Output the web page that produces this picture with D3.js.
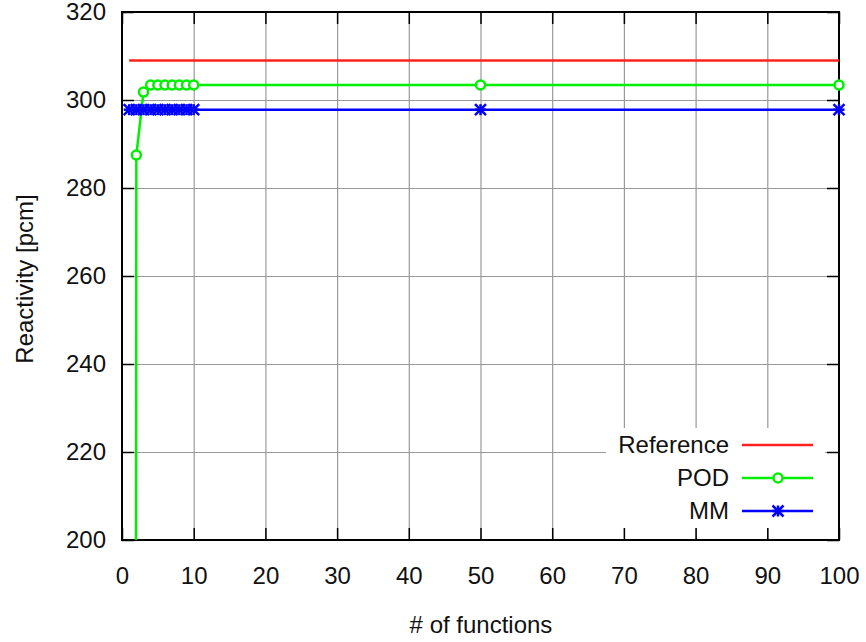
<!DOCTYPE html>
<html>
<head>
<meta charset="utf-8">
<script src="https://cdn.jsdelivr.net/npm/d3@7"></script>
<style>
  body { margin: 0; background: #fff; }
  svg { display: block; font-family: "Liberation Sans", Arial, sans-serif; }
  .grid line { stroke: #999; stroke-width: 1.2; }
  .grid path { display: none; }
  .ticks line { stroke: #000; stroke-width: 1.5; }
  .ticks path { display: none; }
  .ticks text { font-size: 24px; fill: #111; }
</style>
</head>
<body>
<svg id="chart" width="866" height="642"></svg>
<script>
// values
const refX = [1, 100];
const refY = [309, 309];
const podX = [1, 2, 3, 4, 5, 6, 7, 8, 9, 10, 50, 100];
const podY = [-2000, 287.5, 301.8, 303.4, 303.4, 303.4, 303.4, 303.4, 303.4, 303.4, 303.4, 303.4];
const mmX = [1, 2, 3, 4, 5, 6, 7, 8, 9, 10, 50, 100];
const mmY = [297.8, 297.8, 297.8, 297.8, 297.8, 297.8, 297.8, 297.8, 297.8, 297.8, 297.8, 297.8];
const xTicks = [0, 10, 20, 30, 40, 50, 60, 70, 80, 90, 100];
const yTicks = [200, 220, 240, 260, 280, 300, 320];
const legendNames = ['Reference', 'POD', 'MM'];
const colors = ['#ff2020', '#00f000', '#0000ff'];

const margin = { top: 12, right: 27, bottom: 102, left: 122 };
const width = 866, height = 642;
const iw = width - margin.left - margin.right;
const ih = height - margin.top - margin.bottom;

const svg = d3.select('#chart');
const g = svg.append('g').attr('transform', `translate(${margin.left},${margin.top})`);

const x = d3.scaleLinear().domain([0, 100]).range([0, iw]);
const y = d3.scaleLinear().domain([200, 320]).range([ih, 0]);

svg.append('defs').append('clipPath').attr('id', 'clip')
  .append('rect').attr('width', iw).attr('height', ih);

// grid
g.append('g').attr('class', 'grid')
  .attr('transform', `translate(0,${ih})`)
  .call(d3.axisBottom(x).tickValues(xTicks.slice(1, -1)).tickSize(-ih).tickFormat(''));
g.append('g').attr('class', 'grid')
  .call(d3.axisLeft(y).tickValues(yTicks.slice(1, -1)).tickSize(-iw).tickFormat(''));

// legend background hides grid
g.append('rect')
  .attr('x', 606 - margin.left).attr('y', 428 - margin.top)
  .attr('width', 219).attr('height', 100).attr('fill', '#fff');

// ticks (inward, mirrored)
g.append('g').attr('class', 'ticks')
  .attr('transform', `translate(0,${ih})`)
  .call(d3.axisBottom(x).tickValues(xTicks).tickSize(-12).tickPadding(27).tickFormat(d3.format('d')));
g.append('g').attr('class', 'ticks')
  .call(d3.axisTop(x).tickValues(xTicks).tickSize(-12).tickFormat(''));
g.append('g').attr('class', 'ticks')
  .call(d3.axisLeft(y).tickValues(yTicks).tickSize(-12).tickPadding(16).tickFormat(d3.format('d')));
g.append('g').attr('class', 'ticks')
  .attr('transform', `translate(${iw},0)`)
  .call(d3.axisRight(y).tickValues(yTicks).tickSize(-12).tickFormat(''));

// border
g.append('rect').attr('width', iw).attr('height', ih)
  .attr('fill', 'none').attr('stroke', '#000').attr('stroke-width', 2);

const line = d3.line().x(d => x(d[0])).y(d => y(d[1]));
const plot = g.append('g').attr('clip-path', 'url(#clip)');

const series = [
  d3.zip(refX, refY),
  d3.zip(podX, podY),
  d3.zip(mmX, mmY)
];

series.forEach((s, i) => {
  plot.append('path').datum(s)
    .attr('d', line).attr('fill', 'none')
    .attr('stroke', colors[i]).attr('stroke-width', 2.5);
});

const star = (sel, cx, cy, c, r) => {
  const a = sel.append('g').attr('transform', `translate(${cx},${cy})`)
    .attr('stroke', c).attr('stroke-width', 2.5);
  a.append('line').attr('x1', -r).attr('x2', r);
  a.append('line').attr('y1', -r).attr('y2', r);
  a.append('line').attr('x1', -r).attr('y1', -r).attr('x2', r).attr('y2', r);
  a.append('line').attr('x1', -r).attr('y1', r).attr('x2', r).attr('y2', -r);
};

// POD markers
g.append('g').selectAll('circle')
  .data(series[1].filter(d => d[1] >= 200))
  .join('circle')
  .attr('cx', d => x(d[0])).attr('cy', d => y(d[1])).attr('r', 4.5)
  .attr('fill', '#fff').attr('stroke', colors[1]).attr('stroke-width', 2.5);

// MM markers
const mmG = g.append('g');
series[2].forEach(d => star(mmG, x(d[0]), y(d[1]), colors[2], 5.5));

// legend
const legY = [445, 478, 511];
const leg = svg.append('g');
legendNames.forEach((name, i) => {
  leg.append('text')
    .attr('x', 729).attr('y', legY[i]).attr('dy', '0.35em')
    .attr('text-anchor', 'end').attr('font-size', 24).attr('fill', '#111')
    .text(name);
  leg.append('line')
    .attr('x1', 742).attr('x2', 813).attr('y1', legY[i]).attr('y2', legY[i])
    .attr('stroke', colors[i]).attr('stroke-width', 2.5);
});
leg.append('circle').attr('cx', 778).attr('cy', legY[1]).attr('r', 4.5)
  .attr('fill', '#fff').attr('stroke', colors[1]).attr('stroke-width', 2.5);
star(leg, 778, legY[2], colors[2], 5.5);

// axis titles
svg.append('text')
  .attr('x', 481).attr('y', 625).attr('dy', '0.35em')
  .attr('text-anchor', 'middle').attr('font-size', 24).attr('fill', '#111')
  .text('# of functions');
svg.append('text')
  .attr('transform', 'translate(25,279) rotate(-90)')
  .attr('dy', '0.35em')
  .attr('text-anchor', 'middle').attr('font-size', 24).attr('fill', '#111')
  .text('Reactivity [pcm]');
</script>
</body>
</html>
